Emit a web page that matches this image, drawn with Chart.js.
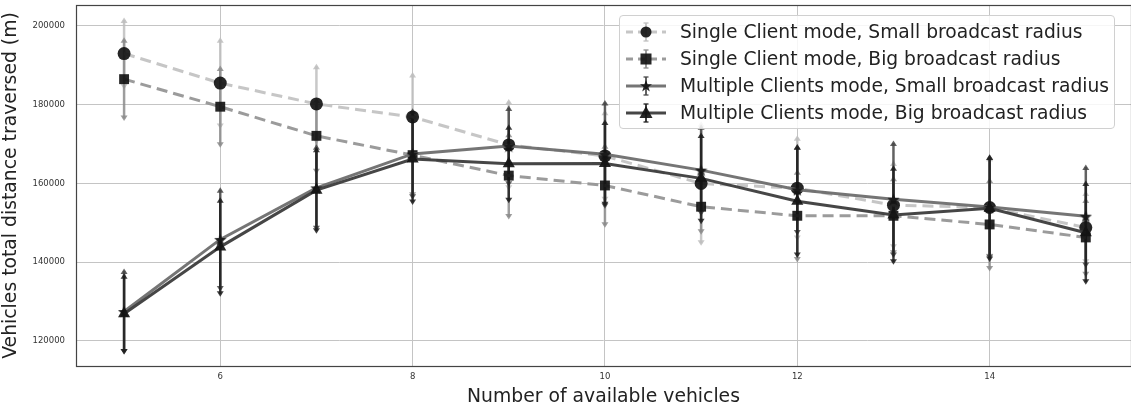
<!DOCTYPE html>
<html>
<head>
<meta charset="utf-8">
<script src="https://cdn.jsdelivr.net/npm/chart.js@4"></script>
<style>
  body { margin: 0; background: #fff; }
  #wrap { position: relative; width: 1131px; height: 408px; }
  #legend {
    position: absolute; left: 619px; top: 15px; width: 496px; height: 114px;
    background: rgba(255,255,255,0.85); border: 1px solid #d0d0d0; border-radius: 4px;
    font-family: "DejaVu Sans", sans-serif; font-size: 18.7px; color: #222;
    box-sizing: border-box; padding-top: 2px;
  }
  .row { display: flex; align-items: center; height: 27px; }
  .row svg { margin-left: 6px; margin-right: 14px; }
</style>
</head>
<body>
<div id="wrap">
  <canvas id="myChart" width="1131" height="408"></canvas>
  <div id="legend"></div>
</div>
<script>
// number of available vehicles
const vehicles = [5, 6, 7, 8, 9, 10, 11, 12, 13, 14, 15];
const xTicks = [6, 8, 10, 12, 14];
const yTicks = [120000, 140000, 160000, 180000, 200000];

// mean total distance (m)
const singleSmall = [193000, 185500, 180200, 176900, 169800, 167000, 160000, 158800, 154500, 153900, 148800];
const singleBig   = [186500, 179500, 172100, 167200, 162000, 159500, 154100, 151800, 151800, 149600, 146300];
const multiSmall  = [127500, 145800, 158900, 167500, 169500, 167400, 163400, 158400, 156000, 154000, 151700];
const multiBig    = [126900, 143900, 158300, 166200, 165000, 165100, 161300, 155500, 152000, 153700, 147500];

// error (+/-)
const singleSmallErr = [8500, 11000, 9600, 10800, 11000, 11100, 15200, 12800, 10700, 12500, 8800];
const singleBigErr   = [10000, 9800, 9100, 10200, 10500, 10100, 6500, 11200, 9500, 11300, 9500];
const multiSmallErr  = [10300, 12600, 10400, 11000, 9700, 13200, 11000, 11000, 14300, 12800, 12500];
const multiBigErr    = [9700, 12000, 10400, 11000, 9400, 10500, 11000, 13800, 12000, 13000, 12600];

const labels = [
  'Single Client mode, Small broadcast radius',
  'Single Client mode, Big broadcast radius',
  'Multiple Clients mode, Small broadcast radius',
  'Multiple Clients mode, Big broadcast radius'
];

const markerColor = 'rgba(20,20,20,0.92)';

function starMarker(size) {
  const c = document.createElement('canvas');
  c.width = size; c.height = size;
  const g = c.getContext('2d');
  const r = size / 2, ri = r * 0.42;
  g.beginPath();
  for (let k = 0; k < 10; k++) {
    const rr = k % 2 ? ri : r;
    const a = -Math.PI / 2 + k * Math.PI / 5;
    g.lineTo(r + rr * Math.cos(a), r + rr * Math.sin(a) + 0.8);
  }
  g.closePath();
  g.fillStyle = markerColor;
  g.fill();
  return c;
}

function pts(vals) {
  return vals.map((v, i) => ({ x: vehicles[i], y: v }));
}

const series = [
  { data: singleSmall, err: singleSmallErr, line: 'rgba(195,195,195,0.95)', errColor: 'rgba(190,190,190,0.85)', dash: [11, 6], style: 'circle', radius: 6.5 },
  { data: singleBig,   err: singleBigErr,   line: 'rgba(150,150,150,0.95)', errColor: 'rgba(140,140,140,0.85)', dash: [11, 6], style: 'rect', radius: 7 },
  { data: multiSmall,  err: multiSmallErr,  line: 'rgba(110,110,110,0.95)', errColor: 'rgba(70,70,70,0.85)', dash: [], style: starMarker(13), radius: 6.5 },
  { data: multiBig,    err: multiBigErr,    line: 'rgba(60,60,60,0.95)',    errColor: 'rgba(30,30,30,0.85)', dash: [], style: 'triangle', radius: 7 }
];

const errorBars = {
  id: 'errorBars',
  beforeDatasetsDraw(chart) {
    const ctx = chart.ctx;
    const x = chart.scales.x, y = chart.scales.y;
    chart.data.datasets.forEach(ds => {
      ctx.save();
      ctx.strokeStyle = ds.errColor;
      ctx.fillStyle = ds.errColor;
      ctx.lineWidth = 2.5;
      ds.data.forEach((p, j) => {
        const px = x.getPixelForValue(p.x);
        const top = y.getPixelForValue(p.y + ds.err[j]);
        const bot = y.getPixelForValue(p.y - ds.err[j]);
        ctx.beginPath();
        ctx.moveTo(px, top); ctx.lineTo(px, bot);
        ctx.stroke();
        // arrow-like caps
        ctx.beginPath();
        ctx.moveTo(px - 3.5, top + 3); ctx.lineTo(px, top - 2.5); ctx.lineTo(px + 3.5, top + 3);
        ctx.closePath(); ctx.fill();
        ctx.beginPath();
        ctx.moveTo(px - 3.5, bot - 3); ctx.lineTo(px, bot + 2.5); ctx.lineTo(px + 3.5, bot - 3);
        ctx.closePath(); ctx.fill();
      });
      ctx.restore();
    });
  }
};

const frame = {
  id: 'frame',
  afterDraw(chart) {
    const { ctx, chartArea: a } = chart;
    ctx.save();
    ctx.strokeStyle = '#444';
    ctx.lineWidth = 1.2;
    ctx.strokeRect(a.left + 0.5, a.top + 0.5, a.right - a.left, a.bottom - a.top);
    ctx.restore();
  }
};

const ctx = document.getElementById('myChart').getContext('2d');
new Chart(ctx, {
  type: 'line',
  data: {
    datasets: series.map((s, i) => ({
      label: labels[i],
      data: pts(s.data),
      err: s.err,
      errColor: s.errColor,
      borderColor: s.line,
      borderWidth: 3,
      borderDash: s.dash,
      fill: false,
      tension: 0,
      pointStyle: s.style,
      pointRadius: s.radius,
      pointBackgroundColor: markerColor,
      pointBorderColor: markerColor,
      pointBorderWidth: 0,
      order: 4 - i
    }))
  },
  options: {
    responsive: false,
    animation: false,
    layout: { autoPadding: false, padding: { top: 5, right: 0, left: 0, bottom: 0 } },
    plugins: { legend: { display: false }, tooltip: { enabled: false } },
    scales: {
      x: {
        type: 'linear',
        min: 4.5,
        max: 15.47,
        afterBuildTicks: s => { s.ticks = xTicks.map(v => ({ value: v })); },
        afterFit: s => { s.height = 42; s.paddingLeft = 0; s.paddingRight = 0; },
        grid: { color: '#c4c4c4', lineWidth: 1, drawTicks: false },
        border: { display: false },
        ticks: { padding: 6, color: '#333', font: { family: 'DejaVu Sans', size: 8.5 }, callback: v => String(v) },
        title: {
          display: true, text: 'Number of available vehicles',
          color: '#222', font: { family: 'DejaVu Sans', size: 18.8 }, padding: { top: 0, bottom: 0 }
        }
      },
      y: {
        min: 113650,
        max: 205330,
        afterBuildTicks: s => { s.ticks = yTicks.map(v => ({ value: v })); },
        afterFit: s => { s.width = 76; s.paddingTop = 0; s.paddingBottom = 0; },
        grid: { color: '#c4c4c4', lineWidth: 1, drawTicks: false },
        border: { display: false },
        ticks: { padding: 11, color: '#333', font: { family: 'DejaVu Sans', size: 8.5 }, callback: v => String(v) },
        title: {
          display: true, text: 'Vehicles total distance traversed (m)',
          color: '#222', font: { family: 'DejaVu Sans', size: 18.8 }, padding: { top: 0, bottom: 4 }
        }
      }
    }
  },
  plugins: [errorBars, frame]
});

// legend (html, real text)
const legend = document.getElementById('legend');
series.forEach((s, i) => {
  const dash = s.dash.length ? 'stroke-dasharray="7 5"' : '';
  let mk;
  if (s.style === 'circle') mk = '<circle cx="20" cy="11" r="5.5" fill="' + markerColor + '"/>';
  else if (s.style === 'rect') mk = '<rect x="14.5" y="5.5" width="11" height="11" fill="' + markerColor + '"/>';
  else if (s.style === 'triangle') mk = '<polygon points="20,4 26.5,16 13.5,16" fill="' + markerColor + '"/>';
  else mk = '<polygon points="20,5 21.6,9.3 26,9.3 22.4,12 23.8,16.5 20,13.8 16.2,16.5 17.6,12 14,9.3 18.4,9.3" fill="' + markerColor + '"/>';
  const row = document.createElement('div');
  row.className = 'row';
  row.innerHTML =
    '<svg width="40" height="22">' +
    '<line x1="0" y1="11" x2="40" y2="11" stroke="' + s.line + '" stroke-width="3" ' + dash + '/>' +
    '<line x1="20" y1="2" x2="20" y2="20" stroke="' + s.errColor + '" stroke-width="2"/>' +
    '<line x1="17.5" y1="2" x2="22.5" y2="2" stroke="' + s.errColor + '" stroke-width="1.5"/>' +
    '<line x1="17.5" y1="20" x2="22.5" y2="20" stroke="' + s.errColor + '" stroke-width="1.5"/>' +
    mk + '</svg><span>' + labels[i] + '</span>';
  legend.appendChild(row);
});
</script>
</body>
</html>
